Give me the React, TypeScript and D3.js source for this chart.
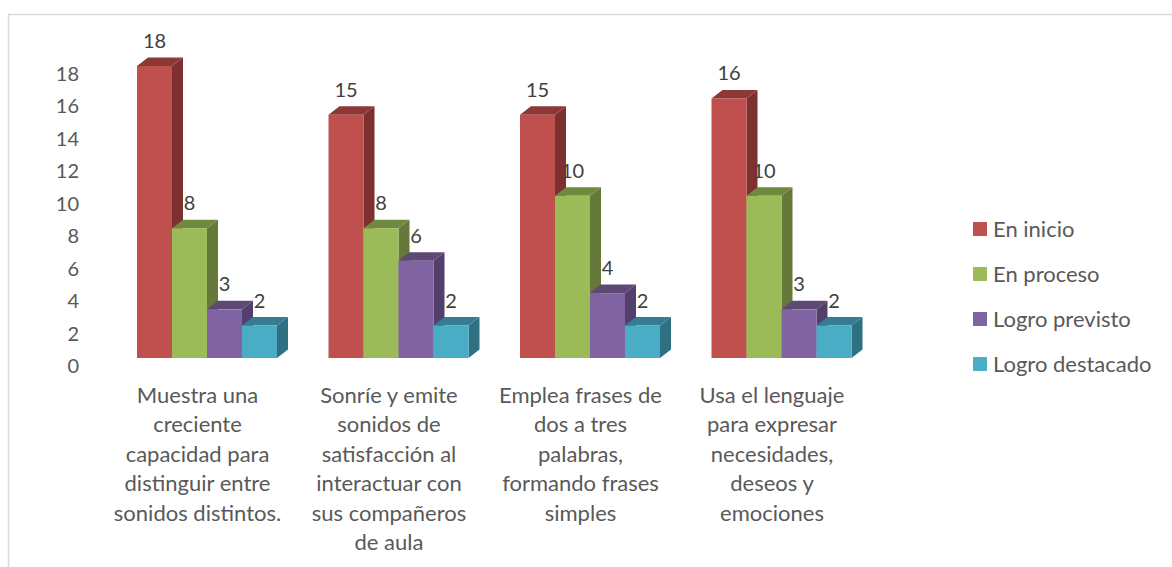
import React from "react";
import * as d3 from "d3";

const categories = [
  ["Muestra una", "creciente", "capacidad para", "distinguir entre", "sonidos distintos."],
  ["Sonríe y emite", "sonidos de", "satisfacción al", "interactuar con", "sus compañeros", "de aula"],
  ["Emplea frases de", "dos a tres", "palabras,", "formando frases", "simples"],
  ["Usa el lenguaje", "para expresar", "necesidades,", "deseos y", "emociones"],
];
const seriesNames = ["En inicio", "En proceso", "Logro previsto", "Logro destacado"];
const enInicio = [18, 15, 15, 16];
const enProceso = [8, 8, 10, 10];
const logroPrevisto = [3, 6, 4, 3];
const logroDestacado = [2, 2, 2, 2];
const seriesValues = [enInicio, enProceso, logroPrevisto, logroDestacado];
const frontColors = ["#C0504D", "#9BBB59", "#8064A2", "#4BACC6"];
const sideColors = ["#7D3030", "#657A3A", "#533F6C", "#2F7083"];
const topColors = ["#8C3836", "#71893F", "#5E4975", "#357D91"];
const yTicks = d3.range(0, 19, 2);

const FONT = "Lato, Carlito, sans-serif";
const DX = 11;
const DY = 8.5;

export default function App() {
  const y = d3.scaleLinear().domain([0, 18]).range([358, 66]);
  const x0 = d3.scaleBand<number>().domain([0, 1, 2, 3]).range([41, 807]).paddingInner(0).paddingOuter(0);
  const barW = 35;
  const barX = (g: number, s: number) => (x0(g) as number) + 96 + s * barW;
  const legendY = d3.scalePoint<string>().domain(seriesNames).range([229, 364]);

  return (
    <svg width={1172} height={567} style={{ position: "fixed", left: 0, top: 0, display: "block", background: "#fff" }}>
      <path d="M1172,14.5H8.5V567" fill="none" stroke="#D9D9D9" strokeWidth={1.5} />

      {yTicks.map((t) => (
        <text key={t} x={79} y={y(t) + 8} dy="0.35em" textAnchor="end" fontFamily={FONT} fontSize={20} fill="#595959">{t}</text>
      ))}

      {categories.map((_, g) => (
        <g key={g}>
          {seriesValues.map((vals, s) => {
            const l = barX(g, s);
            const r = l + barW;
            const t = y(vals[g]);
            const b = y(0);
            return (
              <g key={s}>
                <path d={`M${r},${t}L${r + DX},${t - DY}V${b - DY}L${r},${b}Z`} fill={sideColors[s]} />
                <path d={`M${l},${t}L${l + DX},${t - DY}H${r + DX}L${r},${t}Z`} fill={topColors[s]} />
                <rect x={l} y={t} width={barW} height={b - t} fill={frontColors[s]} />
              </g>
            );
          })}
          {seriesValues.map((vals, s) => (
            <text key={s} x={barX(g, s) + barW / 2} y={y(vals[g]) - 25} dy="0.35em" textAnchor="middle" fontFamily={FONT} fontSize={20} fill="#404040">{vals[g]}</text>
          ))}
          {categories[g].map((line, i) => (
            <text key={i} x={barX(g, 0) + 60.5} y={395 + i * 29.5} dy="0.35em" textAnchor="middle" fontFamily={FONT} fontSize={22} fill="#595959">{line}</text>
          ))}
        </g>
      ))}

      {seriesNames.map((n, s) => (
        <g key={n}>
          <rect x={973} y={(legendY(n) as number) - 7} width={14} height={14} fill={frontColors[s]} />
          <text x={993} y={legendY(n) as number} dy="0.35em" fontFamily={FONT} fontSize={22} fill="#595959">{n}</text>
        </g>
      ))}
    </svg>
  );
}
